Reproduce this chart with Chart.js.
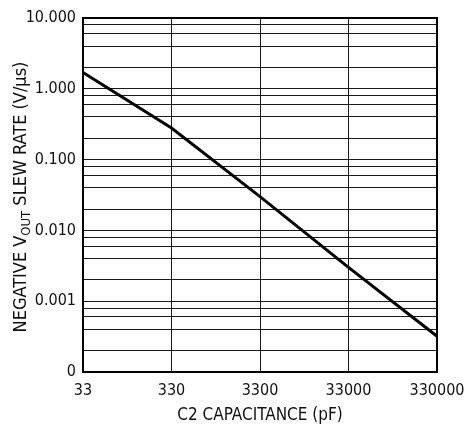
<!DOCTYPE html>
<html>
<head>
<meta charset="utf-8">
<script src="https://cdn.jsdelivr.net/npm/chart.js@4/dist/chart.umd.min.js"></script>
<style>
  html, body { margin: 0; padding: 0; background: #fff; }
  #wrap { width: 467px; height: 426px; position: relative; }
</style>
</head>
<body>
<div id="wrap"><canvas id="c" width="467" height="426"></canvas></div>
<script>
// C2 capacitance (pF) and negative VOUT slew rate (V/µs)
const capacitance = [33, 330, 3300, 33000, 330000];
const slewRate = [1.7, 0.28, 0.03, 0.003, 0.00032];

// Axis ticks
const xTickValues = [33, 330, 3300, 33000, 330000];
const xTickLabels = ['33', '330', '3300', '33000', '330000'];
const yDecades = [0.0001, 0.001, 0.01, 0.1, 1, 10];
const yDecadeLabels = ['0', '0.001', '0.010', '0.100', '1.000', '10.000'];
const yMinorSteps = [2, 4, 6, 8];

const FONT = '"DejaVu Sans Condensed", "Liberation Sans", sans-serif';

// grid values: each decade plus 2, 4, 6, 8 times the decade
const yGridValues = [];
yDecades.forEach((d, i) => {
  yGridValues.push(d);
  if (i < yDecades.length - 1) yMinorSteps.forEach(m => yGridValues.push(+(d * m).toPrecision(6)));
});

function decadeLabel(v) {
  for (let i = 0; i < yDecades.length; i++) {
    if (Math.abs(v - yDecades[i]) / yDecades[i] < 1e-6) return yDecadeLabels[i];
  }
  return '';
}

// frame around the plot and the rotated y title with a subscript
const framePlugin = {
  id: 'frame',
  afterDraw(chart) {
    const { ctx, chartArea: a } = chart;
    ctx.save();
    ctx.strokeStyle = '#000';
    ctx.lineWidth = 2;
    ctx.strokeRect(a.left, a.top, a.right - a.left, a.bottom - a.top);
    ctx.restore();

    // y title: NEGATIVE V(OUT) SLEW RATE (V/µs)
    const parts = [
      { t: 'NEGATIVE V', size: 18, dy: 0 },
      { t: 'OUT', size: 13, dy: 4 },
      { t: ' SLEW RATE (V/µs)', size: 18, dy: 0 }
    ];
    ctx.save();
    ctx.fillStyle = '#111';
    ctx.textBaseline = 'alphabetic';
    let total = 0;
    parts.forEach(p => { ctx.font = p.size + 'px ' + FONT; p.w = ctx.measureText(p.t).width; total += p.w; });
    const cx = 26, cy = 197;
    ctx.translate(cx, cy);
    ctx.rotate(-Math.PI / 2);
    let x = -total / 2;
    parts.forEach(p => {
      ctx.font = p.size + 'px ' + FONT;
      ctx.fillText(p.t, x, p.dy);
      x += p.w;
    });
    ctx.restore();
  }
};

new Chart(document.getElementById('c'), {
  type: 'line',
  data: {
    datasets: [{
      data: capacitance.map((c, i) => ({ x: c, y: slewRate[i] })),
      borderColor: '#000',
      borderWidth: 3,
      pointRadius: 0,
      fill: false,
      tension: 0
    }]
  },
  options: {
    responsive: false,
    animation: false,
    devicePixelRatio: 1,
    layout: { padding: { left: 0, top: 18, right: 30, bottom: 0 } },
    plugins: {
      legend: { display: false },
      tooltip: { enabled: false }
    },
    scales: {
      x: {
        type: 'logarithmic',
        min: 33,
        max: 330000,
        afterBuildTicks(scale) { scale.ticks = xTickValues.map(v => ({ value: v })); },
        afterFit(scale) {
          scale.height = 54;
          scale.paddingLeft = 0;
          scale.paddingRight = 0;
        },
        ticks: {
          autoSkip: false,
          maxRotation: 0,
          padding: 9,
          color: '#111',
          font: { family: FONT, size: 16 },
          callback(v) { const i = xTickValues.indexOf(v); return i >= 0 ? xTickLabels[i] : ''; }
        },
        grid: { color: '#1a1a1a', lineWidth: 1, drawTicks: false },
        border: { display: false },
        title: {
          display: true,
          text: 'C2 CAPACITANCE (pF)',
          color: '#111',
          font: { family: FONT, size: 17 },
          padding: { top: 3, bottom: 0 }
        }
      },
      y: {
        type: 'logarithmic',
        min: 0.0001,
        max: 10,
        afterBuildTicks(scale) { scale.ticks = yGridValues.map(v => ({ value: v })); },
        afterFit(scale) { scale.width = 83; },
        ticks: {
          autoSkip: false,
          padding: 7,
          color: '#111',
          font: { family: FONT, size: 16 },
          callback(v) { return decadeLabel(v); }
        },
        grid: { color: '#1a1a1a', lineWidth: 1, drawTicks: false },
        border: { display: false }
      }
    }
  },
  plugins: [framePlugin]
});
</script>
</body>
</html>
